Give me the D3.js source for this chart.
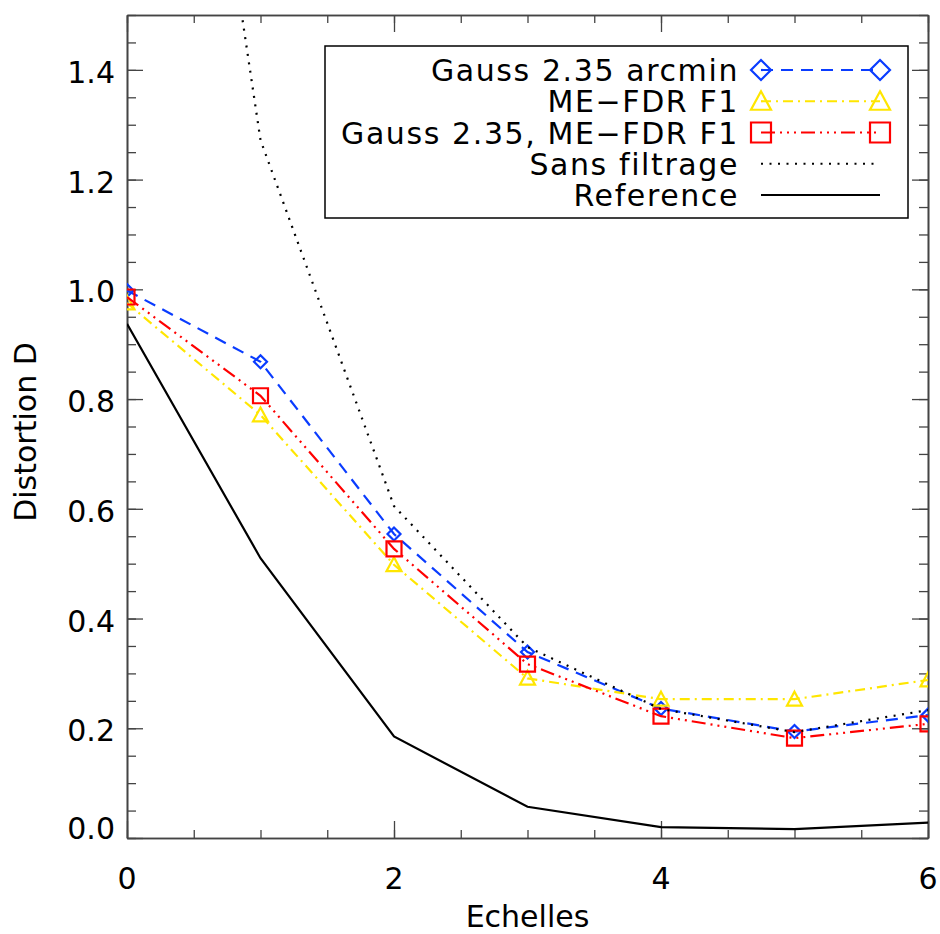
<!DOCTYPE html>
<html>
<head>
<meta charset="utf-8">
<script src="https://cdn.jsdelivr.net/npm/d3@7"></script>
<style>
  body { margin: 0; background: #fff; }
  text { font-family: "DejaVu Sans", sans-serif; fill: #000; }
</style>
</head>
<body>
<svg id="chart" width="940" height="934"></svg>
<script>
// echelles (scales) 0..6
const echelles = [0, 1, 2, 3, 4, 5, 6];

// values
const gauss = [0.998, 0.868, 0.554, 0.339, 0.236, 0.194, 0.224];
const meFdr = [0.975, 0.771, 0.498, 0.291, 0.253, 0.253, 0.288];
const gaussMeFdr = [0.986, 0.806, 0.527, 0.317, 0.222, 0.182, 0.208];
const sansFiltrage = [2.9, 1.272, 0.605, 0.348, 0.235, 0.193, 0.233];
const reference = [0.937, 0.51, 0.185, 0.057, 0.020, 0.016, 0.028];

const xTicks = [0, 2, 4, 6];
const yTicks = [0.0, 0.2, 0.4, 0.6, 0.8, 1.0, 1.2, 1.4];

const series = [
  { name: "Gauss 2.35 arcmin", values: gauss, color: "#0a3cff", dash: "12,8", sym: "diamond" },
  { name: "ME\u2212FDR F1", values: meFdr, color: "#ffe600", dash: "10,5,2,5", sym: "triangle" },
  { name: "Gauss 2.35, ME\u2212FDR F1", values: gaussMeFdr, color: "#ff0000", dash: "14,5,2,5,2,5,2,5", sym: "square" },
  { name: "Sans filtrage", values: sansFiltrage, color: "#000", dash: "2,6.5", sym: null },
  { name: "Reference", values: reference, color: "#000", dash: null, sym: null }
];

const mLeft = 127, mRight = 928, mTop = 15, mBottom = 838;
const svg = d3.select("#chart");

const x = d3.scaleLinear().domain([0, 6]).range([mLeft, mRight]);
const y = d3.scaleLinear().domain([0, 1.5]).range([mBottom, mTop]);

svg.append("clipPath").attr("id", "clip")
  .append("rect").attr("x", mLeft).attr("y", mTop)
  .attr("width", mRight - mLeft).attr("height", mBottom - mTop);

// axes (ticks inside, on all four sides)
const axisColor = "#444";
function drawAxis(axis, tx, ty) {
  const g = svg.append("g").attr("transform", `translate(${tx},${ty})`).call(axis);
  g.selectAll("text").remove();
  g.select(".domain").attr("stroke", axisColor).attr("stroke-width", 1.6);
  g.selectAll(".tick line").attr("stroke", axisColor).attr("stroke-width", 1.3);
  return g;
}
const xMinor = d3.range(0, 6.01, 0.5);
const yMinor = d3.range(0, 1.501, 0.05);
// minor
drawAxis(d3.axisBottom(x).tickValues(xMinor).tickSizeInner(-8).tickSizeOuter(0), 0, mBottom);
drawAxis(d3.axisTop(x).tickValues(xMinor).tickSizeInner(-8).tickSizeOuter(0), 0, mTop);
drawAxis(d3.axisLeft(y).tickValues(yMinor).tickSizeInner(-9).tickSizeOuter(0), mLeft, 0);
drawAxis(d3.axisRight(y).tickValues(yMinor).tickSizeInner(-9).tickSizeOuter(0), mRight, 0);
// major
drawAxis(d3.axisBottom(x).tickValues(xTicks).tickSizeInner(-17).tickSizeOuter(0), 0, mBottom);
drawAxis(d3.axisTop(x).tickValues(xTicks).tickSizeInner(-17).tickSizeOuter(0), 0, mTop);
drawAxis(d3.axisLeft(y).tickValues(yTicks).tickSizeInner(-16).tickSizeOuter(0), mLeft, 0);
drawAxis(d3.axisRight(y).tickValues(yTicks).tickSizeInner(-16).tickSizeOuter(0), mRight, 0);

// tick labels
svg.append("g").selectAll("text").data(xTicks).join("text")
  .attr("x", d => x(d)).attr("y", 889)
  .attr("text-anchor", "middle").attr("font-size", 30)
  .text(d => d);
svg.append("g").selectAll("text").data(yTicks).join("text")
  .attr("x", 115).attr("y", d => (d === 0 ? y(d) - 10 : y(d) + 2) + 11)
  .attr("text-anchor", "end").attr("font-size", 30)
  .text(d => d.toFixed(1));

svg.append("text").attr("x", x(3)).attr("y", 927)
  .attr("text-anchor", "middle").attr("font-size", 30).text("Echelles");
svg.append("text").attr("transform", "translate(36,432) rotate(-90)")
  .attr("text-anchor", "middle").attr("font-size", 30).text("Distortion D");

// curves
const line = d3.line().x((d, i) => x(echelles[i])).y(d => y(d));
const plot = svg.append("g").attr("clip-path", "url(#clip)");

function symbolPath(sym, size) {
  const h = size / 2;
  if (sym === "diamond") return `M0,${-h}L${h},0L0,${h}L${-h},0Z`;
  if (sym === "triangle") return `M0,${-h}L${h},${h * 0.85}L${-h},${h * 0.85}Z`;
  if (sym === "square") return `M${-h},${-h}H${h}V${h}H${-h}Z`;
  return "";
}

series.forEach(s => {
  plot.append("path").datum(s.values)
    .attr("d", line)
    .attr("fill", "none")
    .attr("stroke", s.color)
    .attr("stroke-width", 2.2)
    .attr("stroke-dasharray", s.dash);
  if (s.sym) {
    plot.append("g").selectAll("path").data(s.values).join("path")
      .attr("transform", (d, i) => `translate(${x(echelles[i])},${y(d)})`)
      .attr("d", symbolPath(s.sym, s.sym === "diamond" ? 13 : 15))
      .attr("fill", "none").attr("stroke", s.color).attr("stroke-width", 2.2);
  }
});

// legend
const legend = svg.append("g");
legend.append("rect").attr("x", 325).attr("y", 46).attr("width", 583).attr("height", 172)
  .attr("fill", "#fff").attr("stroke", "#000").attr("stroke-width", 1.5);
const rowY = d3.scaleLinear().domain([0, 4]).range([70, 195]);
series.forEach((s, i) => {
  const yy = rowY(i);
  legend.append("text").attr("x", 739).attr("y", yy + 11)
    .attr("text-anchor", "end").attr("font-size", 30)
    .attr("letter-spacing", 1.6).text(s.name);
  legend.append("line").attr("x1", 761).attr("x2", 880).attr("y1", yy).attr("y2", yy)
    .attr("stroke", s.color).attr("stroke-width", 2.2).attr("stroke-dasharray", s.dash);
  if (s.sym) {
    [761, 880].forEach(cx => {
      legend.append("path").attr("transform", `translate(${cx},${yy})`)
        .attr("d", symbolPath(s.sym, 20))
        .attr("fill", "none").attr("stroke", s.color).attr("stroke-width", 2.2);
    });
  }
});
</script>
</body>
</html>
